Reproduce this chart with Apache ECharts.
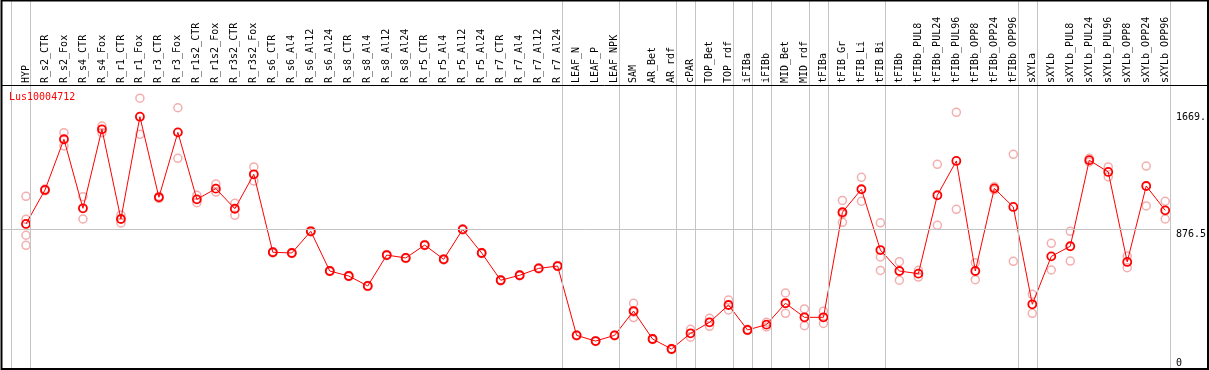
<!DOCTYPE html>
<html>
<head>
<meta charset="utf-8">
<script src="https://cdn.jsdelivr.net/npm/echarts@6/dist/echarts.min.js"></script>
<style>
  html, body { margin: 0; padding: 0; background: #fff; }
  #chart { width: 1209px; height: 370px; }
</style>
</head>
<body>
<div id="chart"></div>
<script>
const probeName = 'Lus10004712';

const categories = [
  'HYP', 'R_s2_CTR', 'R_s2_Fox', 'R_s4_CTR', 'R_s4_Fox', 'R_r1_CTR', 'R_r1_Fox', 'R_r3_CTR', 'R_r3_Fox',
  'R_r1s2_CTR', 'R_r1s2_Fox', 'R_r3s2_CTR', 'R_r3s2_Fox', 'R_s6_CTR', 'R_s6_Al4', 'R_s6_Al12', 'R_s6_Al24',
  'R_s8_CTR', 'R_s8_Al4', 'R_s8_Al12', 'R_s8_Al24', 'R_r5_CTR', 'R_r5_Al4', 'R_r5_Al12', 'R_r5_Al24',
  'R_r7_CTR', 'R_r7_Al4', 'R_r7_Al12', 'R_r7_Al24', 'LEAF_N', 'LEAF_P', 'LEAF_NPK', 'SAM', 'AR_Bet', 'AR_rdf',
  'cPAR', 'TOP_Bet', 'TOP_rdf', 'iFIBa', 'iFIBb', 'MID_Bet', 'MID_rdf', 'tFIBa', 'tFIB_Gr', 'tFIB_Li', 'tFIB_Bi',
  'tFIBb', 'tFIBb_PUL8', 'tFIBb_PUL24', 'tFIBb_PUL96', 'tFIBb_OPP8', 'tFIBb_OPP24', 'tFIBb_OPP96',
  'sXYLa', 'sXYLb', 'sXYLb_PUL8', 'sXYLb_PUL24', 'sXYLb_PUL96', 'sXYLb_OPP8', 'sXYLb_OPP24', 'sXYLb_OPP96'
];

// mean expression per sample
const means = [
  937, 1169, 1515, 1044, 1583, 971, 1669, 1119, 1562, 1105, 1178, 1041, 1276,
  744, 739, 887, 616, 582, 514, 725, 705, 793, 696, 900, 739, 553, 587, 634, 650,
  177, 138, 177, 343, 152, 84, 191, 266, 384, 214, 250, 396, 300, 300,
  1017, 1174, 759, 616, 598, 1133, 1367, 616, 1180, 1053,
  389, 716, 785, 1372, 1292, 678, 1196, 1030
];

// individual replicates per sample
const replicates = [
  [1126, 969, 860, 791], [1175, 1163], [1560, 1469], [1123, 971], [1605, 1561], [998, 944],
  [1795, 1549], [1126, 1112], [1730, 1385], [1133, 1082], [1210, 1155], [1078, 996], [1326, 1230],
  [748, 740], [743, 735], [891, 883], [620, 612], [586, 578], [518, 510], [729, 721], [709, 701],
  [797, 789], [700, 692], [904, 896], [743, 735], [557, 549], [591, 583], [638, 630], [654, 646],
  [180, 174], [141, 135], [180, 174], [396, 298, 335], [156, 148], [88, 80], [218, 164],
  [293, 239], [418, 350], [218, 210], [266, 234], [466, 327], [357, 243], [342, 258],
  [1098, 948, 1005], [1255, 1092], [945, 712, 620], [680, 553], [621, 575], [1344, 928],
  [1699, 1037], [673, 557], [1191, 1169], [1412, 682],
  [457, 327], [805, 623], [887, 684], [1385, 1360], [1326, 1258], [718, 639], [1332, 1060], [1092, 971]
];

const yTickValues = [0, 876.5, 1669];
const yTickLabels = ['0', '876.5', '1669.'];
const midValue = 876.5;

// sample index after which a grey separator is drawn
const groupBreaks = [-1, 0, 28, 31, 34, 35, 37, 38, 39, 41, 42, 45, 52, 53, 60];
const SEP_SHIFT = 0.242;

const FONT = 'DejaVu Sans Mono';

const meanData = means.map((v, i) => [i, v]);
const repData = [];
replicates.forEach((reps, i) => reps.forEach(v => repData.push([i, v])));

const chart = echarts.init(document.getElementById('chart'), null, { renderer: 'canvas' });

const option = {
  backgroundColor: '#ffffff',
  animation: false,
  title: {
    text: probeName,
    left: 4,
    top: 87,
    textStyle: { color: '#ff0000', fontFamily: FONT, fontSize: 10, fontWeight: 'normal' }
  },
  grid: { left: 1, right: 38.3, top: 0, bottom: 1, containLabel: false },
  xAxis: [{
    type: 'value',
    min: -1.3158,
    max: 60.247,
    position: 'top',
    offset: -85,
    axisLine: { show: false },
    axisTick: { show: false },
    splitLine: { show: false },
    axisLabel: {
      customValues: categories.map((c, i) => i),
      formatter: v => categories[Math.round(v)] || '',
      rotate: 90,
      margin: 2,
      color: '#000',
      fontFamily: FONT,
      fontSize: 10,
      hideOverlap: false
    }
  }],
  yAxis: [{
    // data scale
    type: 'value',
    min: -52.54,
    max: 2465.2,
    show: false
  }, {
    // tick label scale
    type: 'value',
    min: -71.8,
    max: 2428.2,
    position: 'right',
    axisLine: { show: false },
    axisTick: { show: false },
    splitLine: { show: false },
    axisLabel: {
      customValues: yTickValues,
      formatter: v => yTickLabels[yTickValues.indexOf(v)],
      margin: 6,
      align: 'left',
      verticalAlign: 'top',
      color: '#000',
      fontFamily: FONT,
      fontSize: 10
    }
  }],
  series: [
    {
      type: 'scatter',
      yAxisIndex: 1,
      data: [],
      silent: true,
      z: 1,
      markLine: {
        silent: true,
        symbol: 'none',
        label: { show: false },
        lineStyle: { color: '#c4c4c4', width: 1, type: 'solid' },
        data: groupBreaks.map(i => ({ xAxis: i + SEP_SHIFT })).concat([{ yAxis: midValue }])
      }
    },
    {
      name: 'replicates',
      type: 'scatter',
      data: repData,
      symbol: 'circle',
      symbolSize: 8,
      itemStyle: { color: 'rgba(0,0,0,0)', borderColor: '#f09a9a', borderWidth: 1.5 },
      z: 2
    },
    {
      name: 'mean',
      type: 'line',
      data: meanData,
      symbol: 'circle',
      symbolSize: 8,
      showSymbol: true,
      lineStyle: { color: '#ff0000', width: 1 },
      itemStyle: { color: 'rgba(0,0,0,0)', borderColor: '#ff0000', borderWidth: 1.8 },
      z: 3
    }
  ],
  graphic: [
    {
      type: 'rect',
      shape: { x: 1.5, y: 0.5, width: 1206.5, height: 368.5 },
      style: { fill: 'none', stroke: '#000', lineWidth: 2 },
      z: 10
    },
    {
      type: 'line',
      shape: { x1: 1, y1: 85.5, x2: 1208, y2: 85.5 },
      style: { stroke: '#000', lineWidth: 1 },
      z: 10
    }
  ]
};

chart.setOption(option);
</script>
</body>
</html>
